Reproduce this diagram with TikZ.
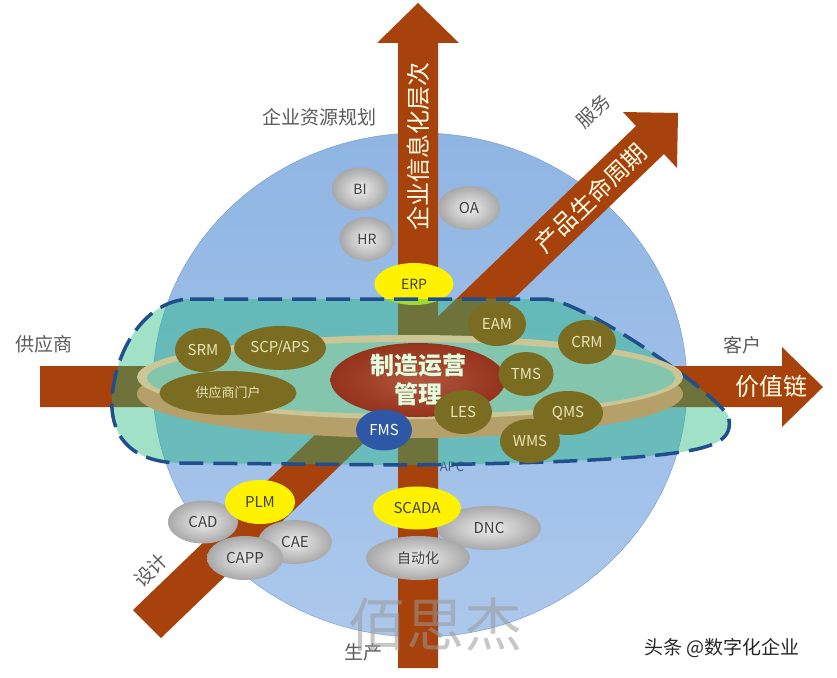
\documentclass[tikz,border=0pt]{standalone}
\usepackage{fontspec}
\setmainfont{Noto Sans CJK SC}
\usetikzlibrary{shapes.geometric}
\definecolor{spheretop}{RGB}{143,181,227}
\definecolor{spherebot}{RGB}{172,200,236}
\definecolor{sphereedge}{RGB}{112,150,200}
\definecolor{arrowbrown}{RGB}{167,66,12}
\definecolor{zonefill}{RGB}{29,183,124}
\definecolor{zoneline}{RGB}{33,78,140}
\definecolor{plateside}{RGB}{182,160,106}
\definecolor{platering}{RGB}{203,198,150}
\definecolor{platetop}{RGB}{132,197,173}
\definecolor{olivebox}{RGB}{122,108,32}
\definecolor{olivetext}{RGB}{232,230,186}
\definecolor{silverin}{RGB}{238,238,238}
\definecolor{silverout}{RGB}{168,168,168}
\definecolor{darktext}{RGB}{64,64,64}
\definecolor{labelgray}{RGB}{90,90,90}
\definecolor{corered}{RGB}{165,56,30}
\definecolor{fmsblue}{RGB}{46,88,166}
\begin{document}
\begin{tikzpicture}[x=1pt,y=-1pt,line join=round]
\tikzset{every node/.style={inner sep=0pt},
  greynode/.style={ellipse,inner color=silverin,outer color=silverout,text=darktext,font=\fontsize{14}{14}\selectfont},
  yellownode/.style={ellipse,fill=yellow,text=darktext,font=\fontsize{14}{14}\selectfont},
  olivenode/.style={ellipse,fill=olivebox,text=olivetext,font=\fontsize{15}{15}\selectfont},
  axislabel/.style={text=labelgray,font=\fontsize{19}{19}\selectfont},
  arrowtext/.style={text=white!90!yellow,font=\fontsize{24}{24}\selectfont}}
\useasboundingbox (0,0) rectangle (837,677);
\draw[sphereedge,top color=spheretop,bottom color=spherebot,thin] (420,385) ellipse [x radius=267, y radius=252];
\fill[arrowbrown] (398,668) -- (398,43) -- (377,43) -- (418,3) -- (459,43) -- (438,43) -- (438,668) -- cycle;
\fill[arrowbrown] (40,366) -- (782,366) -- (782,347) -- (823,387) -- (782,427) -- (782,407) -- (40,407) -- cycle;
\fill[arrowbrown] (161,638) -- (664,154) -- (677,168) -- (678,113) -- (623,112) -- (636,126) -- (133,610) -- cycle;
\node[greynode,minimum width=56,minimum height=43] (bi) at (360,189) {BI};
\node[greynode,minimum width=55,minimum height=44] (hr) at (367,239) {HR};
\node[greynode,minimum width=62,minimum height=44,font=\fontsize{15}{15}\selectfont] (oa) at (469,208) {OA};
\node[yellownode,minimum width=79,minimum height=42] (erp) at (414,284) {ERP};
\node[text=zoneline!70!gray,font=\fontsize{13}{13}\selectfont] (apc) at (452,467) {APC};
\draw[zoneline,line width=3.5pt,dash pattern=on 24pt off 10pt,fill=zonefill,fill opacity=0.42] (190,299) -- (545,299) .. controls (580,300) and (700,380) .. (728,415) .. controls (735,440) and (715,448) .. (667,454) .. controls (620,460) and (520,464) .. (400,465) -- (180,463) .. controls (125,462) and (110,430) .. (112,398) .. controls (116,345) and (148,300) .. (190,299) -- cycle;
\fill[plateside] (410,394) ellipse [x radius=273, y radius=44];
\fill[platering] (410,377) ellipse [x radius=273, y radius=42];
\fill[platetop] (411,378) ellipse [x radius=264, y radius=36];
\node[ellipse,inner color=corered!85!white,outer color=corered!90!black,minimum width=175,minimum height=74,text=white!88!green,align=center,font=\fontsize{24}{29}\selectfont\bfseries] (core) at (418,380) {制造运营\\管理};
\node[olivenode,minimum width=56,minimum height=44] (srm) at (203,350) {SRM};
\node[olivenode,minimum width=92,minimum height=44] (scp) at (280,348) {SCP/APS};
\node[olivenode,minimum width=137,minimum height=44,font=\fontsize{13}{13}\selectfont] (portal) at (228,393) {供应商门户};
\node[olivenode,minimum width=58,minimum height=44] (eam) at (497,324) {EAM};
\node[olivenode,minimum width=58,minimum height=44] (crm) at (587,342) {CRM};
\node[olivenode,minimum width=55,minimum height=44] (tms) at (526,374) {TMS};
\node[olivenode,minimum width=58,minimum height=44] (les) at (463,412) {LES};
\node[olivenode,minimum width=70,minimum height=44] (qms) at (568,413) {QMS};
\node[olivenode,minimum width=60,minimum height=44] (wms) at (530,441) {WMS};
\node[ellipse,fill=fmsblue,text=white,minimum width=56,minimum height=41,font=\fontsize{15}{15}\selectfont] (fms) at (384,430) {FMS};
\node[greynode,minimum width=70,minimum height=43,font=\fontsize{15}{15}\selectfont] (cad) at (203,522) {CAD};
\node[greynode,minimum width=74,minimum height=44,font=\fontsize{15}{15}\selectfont] (cae) at (295,542) {CAE};
\node[greynode,minimum width=76,minimum height=44,font=\fontsize{15}{15}\selectfont] (capp) at (245,558) {CAPP};
\node[yellownode,minimum width=70,minimum height=44,font=\fontsize{15}{15}\selectfont] (plm) at (260,502) {PLM};
\node[greynode,minimum width=104,minimum height=44,font=\fontsize{15}{15}\selectfont] (dnc) at (489,528) {DNC};
\node[yellownode,minimum width=88,minimum height=43,font=\fontsize{15}{15}\selectfont] (scada) at (417,508) {SCADA};
\node[greynode,minimum width=104,minimum height=44] (auto) at (418,558) {自动化};
\node[arrowtext,rotate=90] (level) at (418,146) {企业信息化层次};
\node[arrowtext] (chain) at (771,386) {价值链};
\node[arrowtext,rotate=44] (cycle) at (591,198) {产品生命周期};
\node[axislabel] (erplabel) at (319,117) {企业资源规划};
\node[axislabel,rotate=44] (service) at (593,111) {服务};
\node[axislabel] (supplier) at (44,344) {供应商};
\node[axislabel] (customer) at (742,345) {客户};
\node[axislabel,rotate=44] (design) at (151,570) {设计};
\node[axislabel] (production) at (363,652) {生产};
\node[text=black!40,opacity=0.55,font=\fontsize{58}{58}\selectfont] (mark) at (435,625) {佰思杰};
\node[text=black!85,font=\fontsize{19}{19}\selectfont] (credit) at (722,648) {头条 @数字化企业};
\end{tikzpicture}
\end{document}
